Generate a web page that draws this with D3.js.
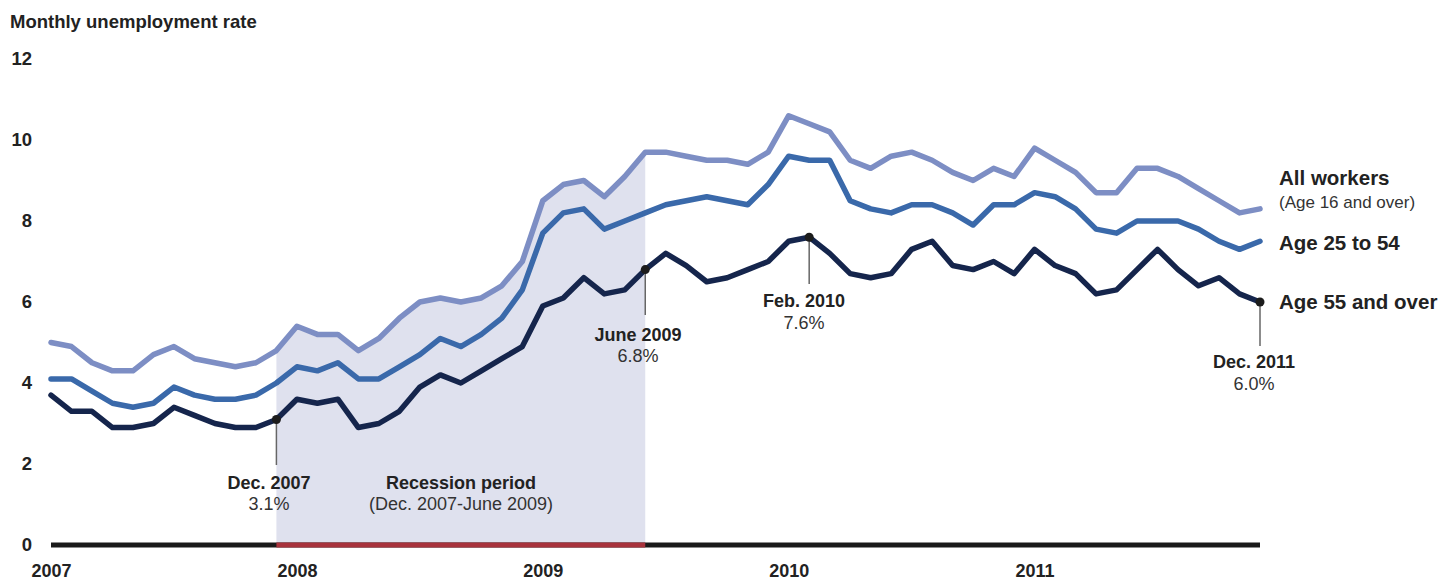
<!DOCTYPE html>
<html><head><meta charset="utf-8">
<script src="https://cdn.jsdelivr.net/npm/d3@7"></script>
<style>
html,body{margin:0;padding:0;background:#fff;}
text{font-family:"Liberation Sans",Arial,Helvetica,sans-serif;}
</style></head>
<body><svg id="c" width="1445" height="580"></svg>
<script>
// ---- data (monthly, Jan 2007 - Dec 2011) ----
const years = [2007, 2008, 2009, 2010, 2011];
const yTicks = [0, 2, 4, 6, 8, 10, 12];
const allWorkers = [5.0,4.9,4.5,4.3,4.3,4.7,4.9,4.6,4.5,4.4,4.5,4.8,
  5.4,5.2,5.2,4.8,5.1,5.6,6.0,6.1,6.0,6.1,6.4,7.0,
  8.5,8.9,9.0,8.6,9.1,9.7,9.7,9.6,9.5,9.5,9.4,9.7,
  10.6,10.4,10.2,9.5,9.3,9.6,9.7,9.5,9.2,9.0,9.3,9.1,
  9.8,9.5,9.2,8.7,8.7,9.3,9.3,9.1,8.8,8.5,8.2,8.3];
const age25to54 = [4.1,4.1,3.8,3.5,3.4,3.5,3.9,3.7,3.6,3.6,3.7,4.0,
  4.4,4.3,4.5,4.1,4.1,4.4,4.7,5.1,4.9,5.2,5.6,6.3,
  7.7,8.2,8.3,7.8,8.0,8.2,8.4,8.5,8.6,8.5,8.4,8.9,
  9.6,9.5,9.5,8.5,8.3,8.2,8.4,8.4,8.2,7.9,8.4,8.4,
  8.7,8.6,8.3,7.8,7.7,8.0,8.0,8.0,7.8,7.5,7.3,7.5];
const age55over = [3.7,3.3,3.3,2.9,2.9,3.0,3.4,3.2,3.0,2.9,2.9,3.1,
  3.6,3.5,3.6,2.9,3.0,3.3,3.9,4.2,4.0,4.3,4.6,4.9,
  5.9,6.1,6.6,6.2,6.3,6.8,7.2,6.9,6.5,6.6,6.8,7.0,
  7.5,7.6,7.2,6.7,6.6,6.7,7.3,7.5,6.9,6.8,7.0,6.7,
  7.3,6.9,6.7,6.2,6.3,6.8,7.3,6.8,6.4,6.6,6.2,6.0];
const recessionStart = 11, recessionEnd = 29; // month indices
const callouts = [
  {i: 11, label: "Dec. 2007", value: "3.1%"},
  {i: 29, label: "June 2009", value: "6.8%"},
  {i: 37, label: "Feb. 2010", value: "7.6%"},
  {i: 59, label: "Dec. 2011", value: "6.0%"}
];

// ---- layout ----
const svg = d3.select("#c");
const x = d3.scaleLinear().domain([0, 59]).range([51, 1260]);
const y = d3.scaleLinear().domain([0, 12]).range([545, 59]);
const C = {all: "#7d8ec4", mid: "#3a69aa", dark: "#15254c", shade: "#dfe1ee", red: "#a8323c"};

// recession shading (area under All workers line)
const recIdx = d3.range(recessionStart, recessionEnd + 1);
svg.append("path")
  .datum(recIdx)
  .attr("d", d3.area().x(i => x(i)).y0(y(0)).y1(i => y(allWorkers[i])))
  .attr("fill", C.shade);

// title
svg.append("text").attr("x", 10).attr("y", 28)
  .attr("font-size", 18.5).attr("font-weight", "bold").attr("fill", "#222")
  .text("Monthly unemployment rate");

// y axis (labels only)
const yAxis = d3.axisLeft(y).tickValues(yTicks).tickSize(0).tickPadding(0);
const yg = svg.append("g").attr("transform", "translate(32,0)").call(yAxis);
yg.select(".domain").remove();
yg.selectAll("text").attr("font-size", 18.5).attr("font-weight", "bold")
  .attr("fill", "#222").attr("font-family", "Liberation Sans, Arial, sans-serif");

// x axis labels
const xAxis = d3.axisBottom(x).tickValues(years.map((yr, k) => k * 12))
  .tickFormat((d, k) => years[k]).tickSize(0).tickPadding(0);
const xg = svg.append("g").attr("transform", "translate(0,564)").call(xAxis);
xg.select(".domain").remove();
xg.selectAll("text").attr("font-size", 18).attr("font-weight", "bold")
  .attr("fill", "#222").attr("font-family", "Liberation Sans, Arial, sans-serif");

// lines
const line = d3.line().x((d, i) => x(i)).y(d => y(d));
[[allWorkers, C.all], [age25to54, C.mid], [age55over, C.dark]].forEach(([data, col]) => {
  svg.append("path").datum(data).attr("d", line)
    .attr("fill", "none").attr("stroke", col).attr("stroke-width", 5.5)
    .attr("stroke-linejoin", "round").attr("stroke-linecap", "round");
});

// baseline
svg.append("line").attr("x1", x(0)).attr("x2", x(59)).attr("y1", y(0)).attr("y2", y(0))
  .attr("stroke", "#1a1a1a").attr("stroke-width", 5);
svg.append("line").attr("x1", x(recessionStart)).attr("x2", x(recessionEnd)).attr("y1", y(0)).attr("y2", y(0))
  .attr("stroke", C.red).attr("stroke-width", 5);

// recession labels
svg.append("text").attr("x", 461).attr("y", 489).attr("text-anchor", "middle")
  .attr("font-size", 18).attr("font-weight", "bold").attr("fill", "#222").text("Recession period");
svg.append("text").attr("x", 461).attr("y", 510).attr("text-anchor", "middle")
  .attr("font-size", 18).attr("fill", "#333").text("(Dec. 2007-June 2009)");

// callouts
const calloutLayout = {
  11: {lineEnd: 465, cx: 269, b1: 489, b2: 510},
  29: {lineEnd: 315, cx: 638, b1: 341, b2: 362},
  37: {lineEnd: 284, cx: 804, b1: 307, b2: 329},
  59: {lineEnd: 346, cx: 1254, b1: 368, b2: 390}
};
callouts.forEach(c => {
  const L = calloutLayout[c.i];
  const px = x(c.i), py = y(age55over[c.i]);
  svg.append("line").attr("x1", px).attr("x2", px).attr("y1", py).attr("y2", L.lineEnd)
    .attr("stroke", "#666").attr("stroke-width", 1.5);
  svg.append("circle").attr("cx", px).attr("cy", py).attr("r", 4.5).attr("fill", "#1c1c1c");
  svg.append("text").attr("x", L.cx).attr("y", L.b1).attr("text-anchor", "middle")
    .attr("font-size", 18).attr("font-weight", "bold").attr("fill", "#222").text(c.label);
  svg.append("text").attr("x", L.cx).attr("y", L.b2).attr("text-anchor", "middle")
    .attr("font-size", 18).attr("fill", "#333").text(c.value);
});

// series labels
svg.append("text").attr("x", 1279).attr("y", 185).attr("font-size", 20.5).attr("font-weight", "bold")
  .attr("fill", "#222").text("All workers");
svg.append("text").attr("x", 1279).attr("y", 208).attr("font-size", 17)
  .attr("fill", "#333").text("(Age 16 and over)");
svg.append("text").attr("x", 1279).attr("y", 250).attr("font-size", 20.5).attr("font-weight", "bold")
  .attr("fill", "#222").text("Age 25 to 54");
svg.append("text").attr("x", 1279).attr("y", 309).attr("font-size", 20.5).attr("font-weight", "bold")
  .attr("fill", "#222").text("Age 55 and over");
</script>
</body></html>
